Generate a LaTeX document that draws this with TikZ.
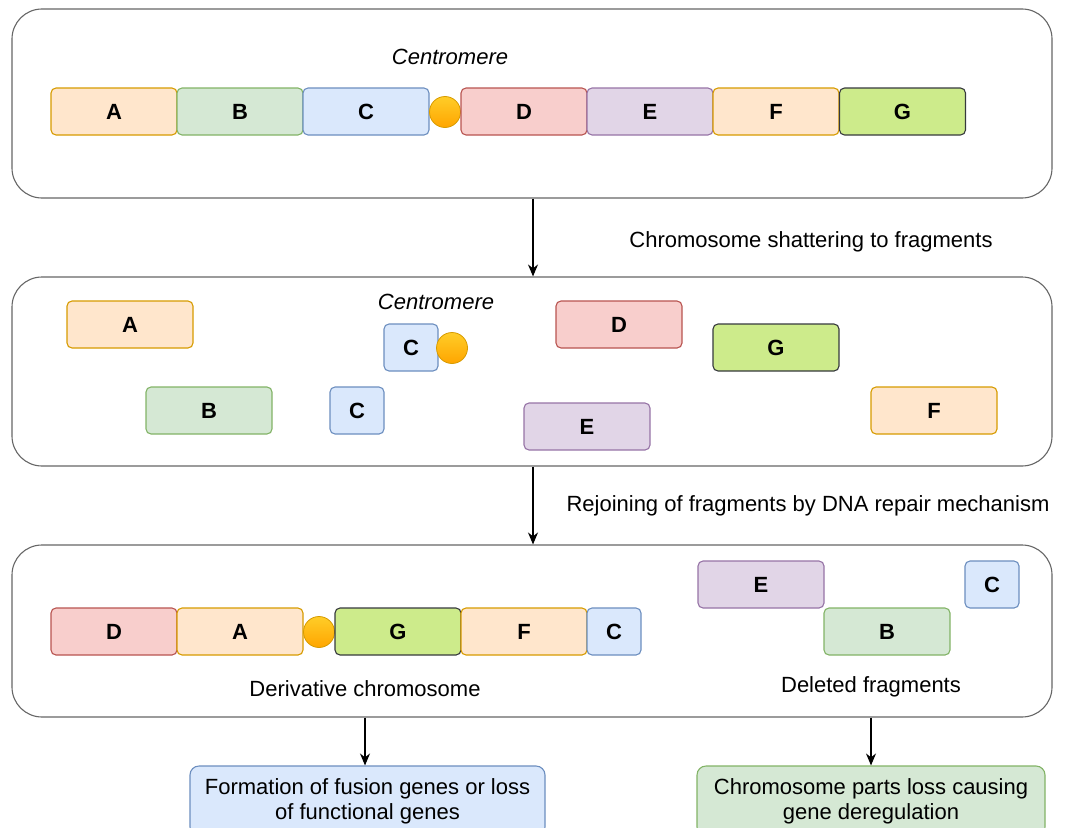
\documentclass[tikz,border=0pt]{standalone}
\usepackage{fontspec}
\setmainfont{Liberation Sans}
\usetikzlibrary{arrows.meta}

\definecolor{orgfill}{HTML}{FFE6CC}
\definecolor{orgline}{HTML}{D79B00}
\definecolor{grnfill}{HTML}{D5E8D4}
\definecolor{grnline}{HTML}{82B366}
\definecolor{blufill}{HTML}{DAE8FC}
\definecolor{bluline}{HTML}{6C8EBF}
\definecolor{redfill}{HTML}{F8CECC}
\definecolor{redline}{HTML}{B85450}
\definecolor{purfill}{HTML}{E1D5E7}
\definecolor{purline}{HTML}{9673A6}
\definecolor{limfill}{HTML}{CDEB8B}
\definecolor{limline}{HTML}{36393D}
\definecolor{centop}{HTML}{FFCD28}
\definecolor{cenbot}{HTML}{FFA500}
\definecolor{panline}{HTML}{666666}

\tikzset{
  seg/.style={draw, rounded corners=5pt, line width=1.1pt, minimum width=126pt,
    minimum height=47pt, inner sep=0pt, font=\fontsize{22}{26}\selectfont\bfseries},
  segO/.style={seg, fill=orgfill, draw=orgline},
  segG/.style={seg, fill=grnfill, draw=grnline},
  segB/.style={seg, fill=blufill, draw=bluline},
  segR/.style={seg, fill=redfill, draw=redline},
  segP/.style={seg, fill=purfill, draw=purline},
  segL/.style={seg, fill=limfill, draw=limline},
  short/.style={minimum width=54pt},
  cen/.style={circle, draw=orgline, line width=0.8pt, minimum size=31pt, inner sep=0pt,
    top color=centop, bottom color=cenbot},
  panel/.style={draw=panline, line width=1.1pt, rounded corners=30pt,
    minimum width=1040pt, inner sep=0pt},
  lbl/.style={inner sep=0pt, font=\fontsize{22}{26}\selectfont},
  outbox/.style={draw, rounded corners=9pt, line width=1.1pt, inner sep=0pt, align=center,
    minimum height=70pt, font=\fontsize{22}{25}\selectfont},
  flow/.style={line width=1.2pt, -{Stealth[length=12pt, width=10pt]}}
}

\begin{document}
\begin{tikzpicture}[x=1pt,y=-1pt]
\clip (0,0) rectangle (1065,827);

% panels
\node[panel, minimum height=189pt] (pan1) at (532,103.5) {};
\node[panel, minimum height=189pt] (pan2) at (532,371.5) {};
\node[panel, minimum height=172pt] (pan3) at (532,631) {};

% original chromosome
\node[lbl, font=\fontsize{22}{26}\selectfont\itshape] (cname1) at (450,57) {Centromere};
\node[segO] (a1) at (114,111.5) {A};
\node[segG] (b1) at (240,111.5) {B};
\node[segB] (c1) at (366,111.5) {C};
\node[cen] (cen1) at (445,112) {};
\node[segR] (d1) at (524,111.5) {D};
\node[segP] (e1) at (650,111.5) {E};
\node[segO] (f1) at (776,111.5) {F};
\node[segL] (g1) at (902.5,111.5) {G};

% shattered fragments
\node[lbl, font=\fontsize{22}{26}\selectfont\itshape] (cname2) at (436,302) {Centromere};
\node[segO] (a2) at (130,324.5) {A};
\node[segB, short] (c2) at (411,347.5) {C};
\node[cen] (cen2) at (452,348) {};
\node[segR] (d2) at (619,324.5) {D};
\node[segL] (g2) at (776,347.5) {G};
\node[segG] (b2) at (209,410.5) {B};
\node[segB, short] (cc2) at (357,410.5) {C};
\node[segP] (e2) at (587,426.5) {E};
\node[segO] (f2) at (934,410.5) {F};

% rejoined chromosome
\node[segR] (d3) at (114,631.5) {D};
\node[segO] (a3) at (240,631.5) {A};
\node[cen] (cen3) at (319,632) {};
\node[segL] (g3) at (398,631.5) {G};
\node[segO] (f3) at (524,631.5) {F};
\node[segB, short] (c3) at (614,631.5) {C};
\node[lbl] (deriv) at (365,689) {Derivative chromosome};

% deleted fragments
\node[segP] (e3) at (761,584.5) {E};
\node[segB, short] (cc3) at (992,584.5) {C};
\node[segG] (b3) at (887,631.5) {B};
\node[lbl] (deleted) at (871,687) {Deleted fragments};

% outcomes
\node[outbox, fill=blufill, draw=bluline, minimum width=355pt] (fuse) at (367.5,801)
  {Formation of fusion genes or loss\\of functional genes};
\node[outbox, fill=grnfill, draw=grnline, minimum width=348pt] (loss) at (871,801)
  {Chromosome parts loss causing\\gene deregulation};

% arrows
\draw[flow] (pan1.south -| 533,0) -- (pan2.north -| 533,0);
\node[lbl] (step1) at (811,242) {Chromosome shattering to fragments};
\draw[flow] (pan2.south -| 533,0) -- (pan3.north -| 533,0);
\node[lbl] (step2) at (808,506) {Rejoining of fragments by DNA repair mechanism};
\draw[flow] (pan3.south -| 365,0) -- (fuse.north -| 365,0);
\draw[flow] (pan3.south -| loss.north) -- (loss.north);
\end{tikzpicture}
\end{document}
